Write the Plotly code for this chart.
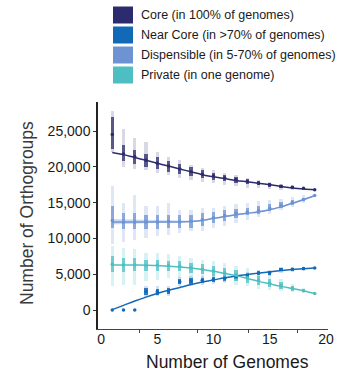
import plotly.graph_objects as go

# ---------------- data ----------------
genomes = list(range(1, 20))

series_names = ["Core (in 100% of genomes)", "Near Core (in >70% of genomes)",
                "Dispensible (in 5-70% of genomes)", "Private (in one genome)"]

# fitted curves
core_fit = [22000, 21700, 21300, 20900, 20500, 20100, 19700, 19300, 18900, 18600,
            18350, 18100, 17900, 17700, 17500, 17250, 17050, 16900, 16800]
near_fit = [50, 650, 1250, 1800, 2300, 2750, 3150, 3550, 3900, 4200,
            4500, 4750, 4950, 5150, 5350, 5500, 5650, 5750, 5850]
disp_fit = [12300, 12300, 12300, 12300, 12300, 12300, 12300, 12350, 12500, 12800,
            13050, 13300, 13500, 13700, 14000, 14400, 14900, 15400, 16000]
priv_fit = [6300, 6300, 6280, 6250, 6200, 6100, 6000, 5850, 5650, 5400,
            5100, 4800, 4400, 4000, 3650, 3300, 3000, 2700, 2300]

# per-column medians of the permutation points
core_med = [24500, 21800, 21400, 20900, 20500, 20100, 19700, 19300, 18950, 18700,
            18450, 18200, 17950, 17700, 17500, 17300, 17150, 17000, 16800]
near_med = [0, 0, 0, 2600, 2550, 2650, 3950, 4050, 4150, 4300,
            4450, 4650, 4800, 5150, 5200, 5650, 5700, 5800, 5850]
disp_med = [12500, 12300, 12300, 12300, 12300, 12350, 12300, 12400, 12600, 12900,
            13200, 13500, 13700, 13900, 14200, 14600, 15000, 15450, 16000]
priv_med = [6400, 6300, 6300, 6250, 6250, 6200, 6100, 5900, 5700, 5450,
            5150, 4850, 4500, 4150, 3750, 3400, 3050, 2700, 2300]

# full spread of points per column
core_lo = [22000, 20000, 19700, 19500, 19200, 18900, 18500, 18200, 17900, 17700,
           17500, 17300, 17100, 17000, 16900, 16800, 16800, 16800, 16800]
core_hi = [27800, 25300, 24000, 23500, 22000, 21300, 21000, 20300, 19900, 19500,
           19100, 18800, 18500, 18200, 17900, 17600, 17400, 17100, 16800]
near_lo = [0, 0, 0, 1800, 1900, 2000, 3300, 3400, 3500, 3700,
           3900, 4100, 4300, 4600, 4700, 5200, 5300, 5500, 5850]
near_hi = [0, 0, 0, 3300, 3300, 3300, 4600, 4700, 4800, 4900,
           5000, 5200, 5300, 5600, 5600, 6000, 6000, 6000, 5850]
disp_lo = [9200, 9500, 9800, 10000, 10300, 10500, 10700, 11000, 11000, 11400,
           11800, 12200, 12600, 13000, 13400, 13900, 14400, 15000, 16000]
disp_hi = [17300, 15000, 16000, 14500, 14500, 15000, 13900, 14000, 14200, 14300,
           14500, 14800, 15000, 15200, 15400, 15500, 15800, 16000, 16000]
priv_lo = [3300, 3500, 3500, 4000, 4200, 4500, 4500, 4500, 4300, 4000,
           3800, 3500, 3300, 3000, 2800, 2600, 2500, 2400, 2300]
priv_hi = [9000, 8600, 8500, 8000, 8000, 7800, 7500, 7300, 7000, 6800,
           6500, 6200, 5800, 5400, 4900, 4300, 3700, 3100, 2300]

# dense central part of each column
core_dlo = [22500, 20800, 20400, 20000, 19700, 19300, 19000, 18700, 18400, 18200,
            18000, 17800, 17600, 17400, 17200, 17100, 17000, 16900, 16800]
core_dhi = [27000, 23000, 22400, 21800, 21300, 20800, 20400, 20000, 19500, 19200,
            18900, 18600, 18300, 18000, 17800, 17500, 17300, 17100, 16800]
near_dlo = [0, 0, 0, 2100, 2100, 2200, 3600, 3700, 3800, 3950,
            4100, 4300, 4500, 4850, 4900, 5400, 5450, 5650, 5850]
near_dhi = [0, 0, 0, 3050, 3000, 3050, 4350, 4400, 4500, 4650,
            4750, 4950, 5100, 5400, 5450, 5850, 5900, 5950, 5850]
disp_dlo = [11500, 11300, 11300, 11300, 11300, 11400, 11400, 11500, 11700, 12100,
            12500, 12900, 13200, 13400, 13800, 14200, 14700, 15200, 16000]
disp_dhi = [14500, 13500, 13500, 13300, 13300, 13300, 13200, 13300, 13500, 13700,
            13900, 14100, 14300, 14500, 14800, 15100, 15400, 15700, 16000]
priv_dlo = [5300, 5300, 5400, 5500, 5500, 5500, 5400, 5200, 5000, 4700,
            4400, 4100, 3800, 3500, 3200, 2900, 2700, 2500, 2300]
priv_dhi = [7500, 7300, 7200, 7000, 7000, 6900, 6800, 6600, 6400, 6200,
            5900, 5600, 5200, 4800, 4300, 3900, 3400, 2900, 2300]

# confidence band of dispensible fit
disp_band_lo = [11950, 12000, 12050, 12050, 12100, 12150, 12200, 12250, 12400, 12700,
                12950, 13200, 13400, 13600, 13900, 14300, 14800, 15300, 15900]
disp_band_hi = [12700, 12650, 12600, 12550, 12500, 12450, 12400, 12450, 12600, 12900,
                13150, 13400, 13600, 13800, 14100, 14500, 15000, 15500, 16100]

x_ticks = [0, 5, 10, 15, 20]
y_ticks = [0, 5000, 10000, 15000, 20000, 25000]
y_tick_text = ["0", "5,000", "10,000", "15,000", "20,000", "25,000"]
x_minor_ticks = [3.38, 8.62, 13.07, 17.51]

colors = ["#2c2b6d", "#1269b8", "#6e93d3", "#4dbfc3"]
rgba_light = ["rgba(44,43,109,0.18)", "rgba(18,105,184,0.2)",
              "rgba(110,147,211,0.22)", "rgba(77,191,195,0.22)"]
rgba_dense = ["rgba(44,43,109,0.75)", "rgba(18,105,184,0.85)",
              "rgba(110,147,211,0.75)", "rgba(77,191,195,0.75)"]

fits = [core_fit, near_fit, disp_fit, priv_fit]
meds = [core_med, near_med, disp_med, priv_med]
los = [core_lo, near_lo, disp_lo, priv_lo]
his = [core_hi, near_hi, disp_hi, priv_hi]
dlos = [core_dlo, near_dlo, disp_dlo, priv_dlo]
dhis = [core_dhi, near_dhi, disp_dhi, priv_dhi]

# ---------------- figure ----------------
W, H = 350, 377
L, R, T, B = 98, 22, 102, 48
PW, PH = W - L - R, H - T - B
FONT = "Liberation Sans, Arial, sans-serif"

def px_x(px):
    return (px - L) / PW

def px_y(py):
    return (H - B - py) / PH

fig = go.Figure()

# dispensible band
fig.add_trace(go.Scatter(x=genomes, y=disp_band_lo, mode="lines", line=dict(width=0),
                         showlegend=False, hoverinfo="skip"))
fig.add_trace(go.Scatter(x=genomes, y=disp_band_hi, mode="lines", line=dict(width=0),
                         fill="tonexty", fillcolor="rgba(110,147,211,0.35)",
                         showlegend=False, hoverinfo="skip"))

for i in range(4):
    fig.add_trace(go.Bar(x=genomes, y=[h - l for h, l in zip(his[i], los[i])], base=los[i],
                         width=0.3, marker=dict(color=rgba_light[i], line=dict(width=0)),
                         showlegend=False, hoverinfo="skip"))
    fig.add_trace(go.Bar(x=genomes, y=[h - l for h, l in zip(dhis[i], dlos[i])], base=dlos[i],
                         width=0.3, marker=dict(color=rgba_dense[i], line=dict(width=0)),
                         showlegend=False, hoverinfo="skip"))

for i in range(4):
    fig.add_trace(go.Scatter(x=genomes, y=fits[i], mode="lines",
                             line=dict(color=colors[i], width=1.5, shape="spline"),
                             name=series_names[i], showlegend=False))
    fig.add_trace(go.Scatter(x=genomes, y=meds[i], mode="markers",
                             marker=dict(color=colors[i], size=3.5),
                             showlegend=False, hoverinfo="skip"))

# manual legend
shapes = []
annotations = []
row_centers = [15, 35, 55, 75]
for i, yc in enumerate(row_centers):
    shapes.append(dict(type="rect", xref="paper", yref="paper",
                       x0=px_x(113), x1=px_x(133), y0=px_y(yc + 8.5), y1=px_y(yc - 8.5),
                       fillcolor=colors[i], line=dict(width=0)))
    annotations.append(dict(xref="paper", yref="paper", x=px_x(139), y=px_y(yc),
                            text=series_names[i], showarrow=False, xanchor="left",
                            yanchor="middle",
                            font=dict(family=FONT, size=12.5, color="#1a1a1a")))

annotations.append(dict(xref="paper", yref="paper", x=px_x(227), y=px_y(362),
                        text="Number of Genomes", showarrow=False, xanchor="center",
                        yanchor="middle",
                        font=dict(family=FONT, size=17.5, color="#1a1a1a")))
annotations.append(dict(xref="paper", yref="paper", x=px_x(27), y=px_y(213),
                        text="Number of Orthogroups", showarrow=False, textangle=-90,
                        xanchor="center", yanchor="middle",
                        font=dict(family=FONT, size=17.5, color="#3a3a3a")))

fig.update_layout(
    width=W, height=H,
    margin=dict(l=L, r=R, t=T, b=B, pad=0),
    paper_bgcolor="white", plot_bgcolor="white",
    barmode="overlay", bargap=0,
    shapes=shapes, annotations=annotations,
    showlegend=False,
    font=dict(family=FONT, size=14, color="#1a1a1a"),
)
fig.update_xaxes(range=[-0.27, 20.18], tickvals=x_ticks, ticks="", showgrid=False,
                 zeroline=False, showline=True, linecolor="#444444", linewidth=1.2,
                 tickfont=dict(size=14), ticklabelstandoff=-3,
                 minor=dict(tickvals=x_minor_ticks, ticks="outside", ticklen=3,
                            tickcolor="#444444", showgrid=False))
fig.update_yaxes(range=[-2654, 29050], tickvals=y_ticks, ticktext=y_tick_text,
                 ticks="outside", ticklen=3, tickcolor="#333333", showgrid=False,
                 zeroline=False, showline=True, linecolor="#222222", linewidth=1.5,
                 tickfont=dict(size=14))

fig.write_html("out.html", config={"displayModeBar": False},
               post_script="document.body.style.margin='0';")
